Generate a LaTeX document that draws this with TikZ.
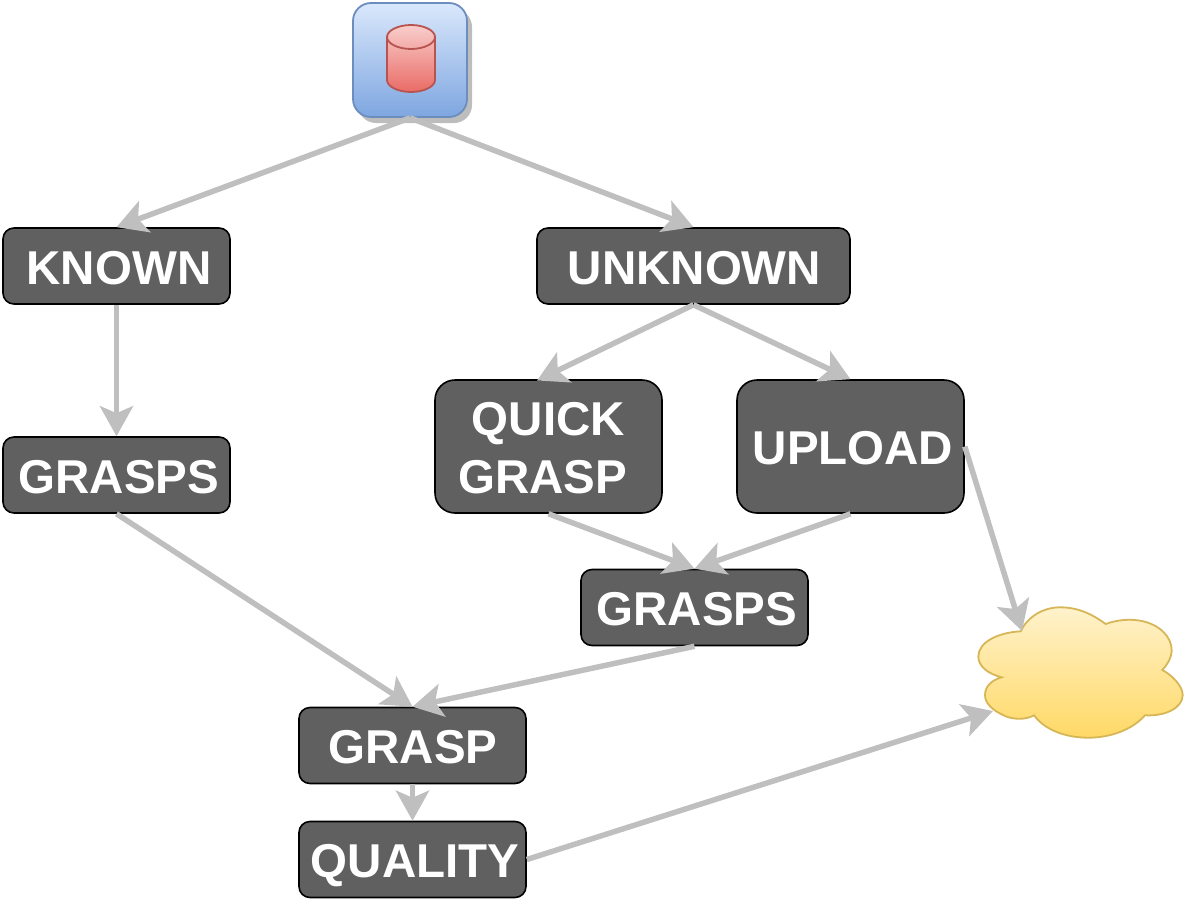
\documentclass[tikz,border=0pt]{standalone}
\usepackage{fontspec}
\setmainfont{Liberation Sans}
\usetikzlibrary{arrows.meta,shadows}
\definecolor{boxfill}{HTML}{606060}
\definecolor{linkgrey}{HTML}{BFBFBF}
\definecolor{dbtop}{HTML}{DAE8FC}
\definecolor{dbbot}{HTML}{7EA6E0}
\definecolor{dbline}{HTML}{6C8EBF}
\definecolor{cyltop}{HTML}{F8CECC}
\definecolor{cylbot}{HTML}{EA6B66}
\definecolor{cylline}{HTML}{B85450}
\definecolor{cloudtop}{HTML}{FFF2CC}
\definecolor{cloudbot}{HTML}{FFD966}
\definecolor{cloudline}{HTML}{D6B656}
\definecolor{shadowgrey}{HTML}{BDBDBD}
\tikzset{
  labelbase/.style={draw=black,line width=1.6pt,fill=boxfill,rounded corners=11pt,text=white,
    font=\fontsize{47.5}{56}\selectfont\bfseries,align=center,inner sep=0pt,
    minimum width=227pt,minimum height=76pt},
  labelbox/.style={labelbase,text height=36pt,text depth=0pt},
  tallbox/.style={labelbase,rounded corners=20pt,minimum height=133pt},
  link/.style={draw=linkgrey,line width=5.5pt,-{Stealth[length=30pt,width=33pt,inset=7pt]}},
}
\begin{document}
\begin{tikzpicture}[x=1pt,y=-1pt]
\useasboundingbox (0,0) rectangle (1194,900);
% database tile
\fill[shadowgrey,rounded corners=18pt] (358,9) rectangle (472,123);
\node[minimum width=114pt,minimum height=114pt,inner sep=0pt,rounded corners=18pt,draw=dbline,
  line width=1.8pt,top color=dbtop,bottom color=dbbot] (db) at (410,60) {};
\path[draw=cylline,line width=1.8pt,top color=cyltop,bottom color=cylbot]
  (387,37) .. controls (387,30.5) and (398,25) .. (411,25)
  .. controls (424,25) and (435,30.5) .. (435,37) -- (435,80)
  .. controls (435,86.5) and (424,92) .. (411,92)
  .. controls (398,92) and (387,86.5) .. (387,80) -- cycle;
\draw[cylline,line width=1.8pt] (387,37) .. controls (387,43.5) and (398,49) .. (411,49)
  .. controls (424,49) and (435,43.5) .. (435,37);
% cloud
\path[draw=cloudline,line width=1.8pt,top color=cloudtop,bottom color=cloudbot]
  (1020.7,631.3)
  .. controls (1028,616) and (1044,607.3) .. (1060,607.3)
  .. controls (1078,607.3) and (1092,614) .. (1105.7,624)
  .. controls (1116,620) and (1130,618.5) .. (1142,621)
  .. controls (1160,625) and (1172,637) .. (1171.7,651)
  .. controls (1171.5,658) and (1167,665) .. (1162.3,670)
  .. controls (1172,675) and (1182.7,686) .. (1182.7,695)
  .. controls (1182.7,708) and (1165,716.5) .. (1145,715.3)
  .. controls (1132,730) and (1110,737.7) .. (1088.3,737.7)
  .. controls (1064,737.7) and (1044,729) .. (1034,715.3)
  .. controls (1026,720) and (1012,720) .. (1003,715)
  .. controls (992,710) and (985,703) .. (985,695)
  .. controls (985,686) and (992,680) .. (1001.7,677.3)
  .. controls (988,674) and (978.3,666) .. (978.3,656.7)
  .. controls (978.3,642) and (998,632.5) .. (1020.7,631.3) -- cycle;
\coordinate (cloudtopin) at (1022,631);
\coordinate (cloudleftin) at (993,711);
\coordinate (quickin) at (537,380.5);
% boxes
\node[labelbox] (known) at (116.5,266) {\hspace*{5pt}KNOWN};
\node[labelbox] (graspsa) at (116.5,475) {\hspace*{5pt}GRASPS};
\node[labelbox,minimum width=313pt] (unknown) at (693.5,266) {\hspace*{2pt}UNKNOWN};
\node[tallbox] (quick) at (548.5,446.5) {\rule{0pt}{36pt}QUICK\\[2pt]GRASP\hspace*{12pt}};
\node[labelbox,tallbox,text height=36pt,text depth=0pt] (upload) at (850.5,446.5) {\hspace*{5pt}UPLOAD};
\node[labelbox] (graspsb) at (694.5,607.5) {\hspace*{5pt}GRASPS};
\node[labelbox] (grasp) at (412.5,745.5) {\hspace*{1pt}GRASP};
\node[labelbox] (quality) at (412.5,859.5) {\hspace*{5pt}QUALITY};
% connectors
\draw[link] (db.south) -- (known.north);
\draw[link] (db.south) -- (unknown.north);
\draw[link] (known.south) -- (graspsa.north);
\draw[link] (unknown.south) -- (quickin);
\draw[link] (unknown.south) -- (upload.north);
\draw[link] (quick.south) -- (graspsb.north);
\draw[link] (upload.south) -- (graspsb.north);
\draw[link] (graspsa.south) -- (grasp.north);
\draw[link] (graspsb.south) -- (grasp.north);
\draw[link] (grasp.south) -- (quality.north);
\draw[link] (upload.east) -- (cloudtopin);
\draw[link] (quality.east) -- (cloudleftin);
\end{tikzpicture}
\end{document}
